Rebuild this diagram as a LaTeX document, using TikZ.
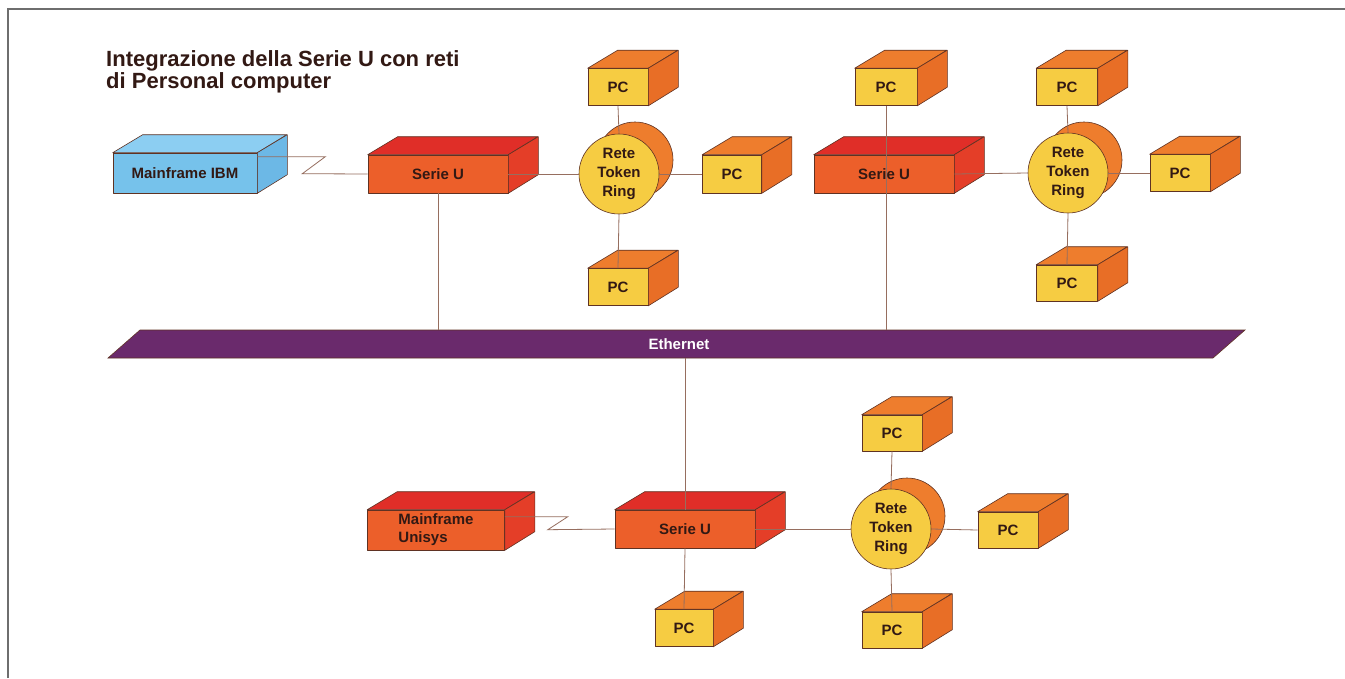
\documentclass[tikz,border=0pt]{standalone}
\usepackage{fontspec}
\setmainfont{Liberation Sans}
\usetikzlibrary{calc}
\definecolor{edgecol}{RGB}{95,50,35}
\definecolor{txtcol}{RGB}{50,25,20}
\definecolor{linecol}{RGB}{150,110,95}
\definecolor{framecol}{RGB}{110,110,110}
\definecolor{pcyel}{RGB}{246,204,66}
\definecolor{ortop}{RGB}{238,125,45}
\definecolor{orside}{RGB}{232,110,38}
\definecolor{serfr}{RGB}{236,95,42}
\definecolor{sertp}{RGB}{224,46,40}
\definecolor{sersd}{RGB}{228,62,40}
\definecolor{ibmfr}{RGB}{118,194,235}
\definecolor{ibmtp}{RGB}{140,206,242}
\definecolor{ibmsd}{RGB}{108,184,230}
\definecolor{ethcol}{RGB}{106,42,108}
\newcommand\mkbox[6]{%
  \node[#5front, minimum width=#3pt, minimum height=#4pt] (#1) at #2 {#6};
  \draw[#5top] (#1.north west) -- ++(30,-18) -- ++(#3,0) -- (#1.north east) -- cycle;
  \draw[#5side] (#1.north east) -- ++(30,-18) -- ++(0,#4) -- (#1.south east) -- cycle;}
\begin{document}
\begin{tikzpicture}[x=1pt,y=-1pt,
  lbl/.style={font=\fontsize{15}{18}\selectfont\bfseries, text=txtcol},
  facebase/.style={draw=edgecol, line width=0.6pt, line join=round},
  pcfront/.style={facebase, fill=pcyel, lbl, inner sep=0pt},
  pctop/.style={facebase, fill=ortop},
  pcside/.style={facebase, fill=orside},
  serfront/.style={facebase, fill=serfr, lbl, inner sep=0pt, align=left},
  sertop/.style={facebase, fill=sertp},
  serside/.style={facebase, fill=sersd},
  ibmfront/.style={facebase, fill=ibmfr, lbl, inner sep=0pt},
  ibmtop/.style={facebase, fill=ibmtp},
  ibmside/.style={facebase, fill=ibmsd},
  ringfr/.style={circle, facebase, fill=pcyel, minimum size=80pt, inner sep=0pt, align=center, font=\fontsize{15}{19}\selectfont\bfseries, text=txtcol},
  ringbk/.style={circle, facebase, fill=ortop, minimum size=76pt, inner sep=0pt},
  conn/.style={draw=linecol, line width=0.8pt},
  ethlbl/.style={font=\fontsize{15}{18}\selectfont\bfseries, text=white, minimum height=28pt, inner sep=0pt}]
\useasboundingbox (0,0) rectangle (1345,678);
\fill[white] (0,0) rectangle (1345,678);
\draw[framecol, line width=2pt] (8,678) -- (8,9) -- (1345,9);

% title
\node[anchor=north west, align=left, inner sep=0pt, text=txtcol,
  font=\fontsize{22}{22}\selectfont\bfseries] (title) at (106,50)
  {Integrazione della Serie U con reti\\di Personal computer};

% Ethernet
\fill[ethcol, draw=edgecol, line width=0.6pt] (108,358) -- (140,330) -- (1245,330) -- (1213,358) -- cycle;
\node[ethlbl] (eth) at (679,344) {Ethernet};

% cluster 1
\mkbox{ibm}{(185,173)}{144}{40}{ibm}{Mainframe IBM}
\mkbox{s1}{(438,174)}{140}{38}{ser}{Serie U}
\mkbox{p1a}{(618,87)}{60}{37}{pc}{PC}
\node[ringbk] (r1b) at (635,160) {};
\node[ringfr] (r1) at (619,174) {Rete\\Token\\Ring};
\mkbox{p1b}{(732,174)}{59}{38}{pc}{PC}
\mkbox{p1c}{(618,287)}{60}{37}{pc}{PC}

% cluster 2
\mkbox{p2a}{(886,87)}{62}{37}{pc}{PC}
\mkbox{s2}{(884,174)}{140}{38}{ser}{Serie U}
\mkbox{p2b}{(1067,87)}{61}{37}{pc}{PC}
\node[ringbk] (r2b) at (1084,160) {};
\node[ringfr] (r2) at (1068,173) {Rete\\Token\\Ring};
\mkbox{p2c}{(1180,173)}{60}{37}{pc}{PC}
\mkbox{p2d}{(1067,283)}{61}{36}{pc}{PC}

% cluster 3
\mkbox{uni}{(436,530)}{137}{40}{ser}{Mainframe\\Unisys}
\mkbox{s3}{(685,529)}{140}{38}{ser}{Serie U}
\mkbox{p3a}{(684,628)}{58}{37}{pc}{PC}
\mkbox{p3b}{(892,433)}{60}{36}{pc}{PC}
\node[ringbk] (r3b) at (907,516) {};
\node[ringfr] (r3) at (891,529) {Rete\\Token\\Ring};
\mkbox{p3c}{(1008,530)}{60}{36}{pc}{PC}
\mkbox{p3d}{(892,630)}{60}{36}{pc}{PC}

% connectors
\draw[conn] ([yshift=-4pt]ibm.north east) -- ++(68,0) -- ++(-23,17) -- (s1.west);
\draw[conn] (s1.south) -- (s1.south |- eth.north);
\draw[conn] (s1.east) -- (r1.west);
\draw[conn] (p1a.south) -- (r1.north);
\draw[conn] (r1.east) -- (p1b.west);
\draw[conn] (r1.south) -- (p1c.north);

\draw[conn] (p2a.south) -- (p2a.south |- eth.north);
\draw[conn] (s2.east) -- (r2.west);
\draw[conn] (p2b.south) -- (r2.north);
\draw[conn] (r2.east) -- (p2c.west);
\draw[conn] (r2.south) -- (p2d.north);

\draw[conn] (s3.north |- eth.south) -- (s3.north);
\draw[conn] ([yshift=-7pt]uni.north east) -- ++(63,0) -- ++(-20,13) -- (s3.west);
\draw[conn] (s3.south) -- (p3a.north);
\draw[conn] (s3.east) -- (r3.west);
\draw[conn] (p3b.south) -- (r3.north);
\draw[conn] (r3.east) -- (p3c.west);
\draw[conn] (r3.south) -- (p3d.north);
\end{tikzpicture}
\end{document}
